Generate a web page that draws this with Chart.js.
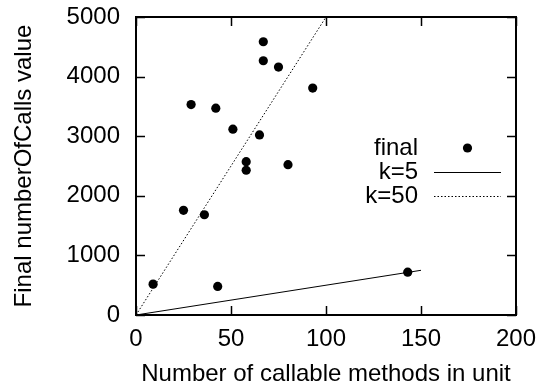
<!DOCTYPE html>
<html>
<head>
<meta charset="utf-8">
<script src="https://cdn.jsdelivr.net/npm/chart.js@4.4.0/dist/chart.umd.min.js"></script>
<style>
  html, body { margin: 0; padding: 0; background: #fff; }
</style>
</head>
<body>
<canvas id="chart" width="548" height="390"></canvas>
<script>
// data
const finalX = [9, 25, 29, 36, 42, 43, 51, 58, 58, 65, 67, 67, 75, 80, 93, 143];
const finalY = [518, 1756, 3531, 1682, 3470, 479, 3118, 2573, 2429, 3022, 4585, 4266, 4160, 2523, 3807, 719];
const k5X = [0, 150];
const k5Y = [0, 750];
const k50X = [0, 100];
const k50Y = [0, 5000];
const xTicks = [0, 50, 100, 150, 200];
const yTicks = [0, 1000, 2000, 3000, 4000, 5000];

const FONT = 'Liberation Sans, Arial, Helvetica, sans-serif';
const FS = 24;

function pts(xs, ys) {
  return xs.map((x, i) => ({ x: x, y: ys[i] }));
}

// gnuplot-like border with inward ticks on all four sides
const framePlugin = {
  id: 'frame',
  afterDatasetsDraw(chart) {
    const { ctx, chartArea: a, scales } = chart;
    ctx.save();
    ctx.strokeStyle = '#000';
    ctx.lineWidth = 1.5;
    const tl = 9;
    ctx.beginPath();
    xTicks.forEach(v => {
      const px = Math.round(scales.x.getPixelForValue(v)) + 0.5;
      ctx.moveTo(px, a.bottom); ctx.lineTo(px, a.bottom - tl);
      ctx.moveTo(px, a.top); ctx.lineTo(px, a.top + tl);
    });
    yTicks.forEach(v => {
      const py = Math.round(scales.y.getPixelForValue(v)) + 0.5;
      ctx.moveTo(a.left, py); ctx.lineTo(a.left + tl, py);
      ctx.moveTo(a.right, py); ctx.lineTo(a.right - tl, py);
    });
    ctx.stroke();
    ctx.lineWidth = 2;
    ctx.strokeRect(a.left, a.top, a.right - a.left, a.bottom - a.top);
    ctx.restore();
  }
};

// key drawn inside the plot, text first then sample (gnuplot style)
const keyPlugin = {
  id: 'key',
  afterDraw(chart) {
    const { ctx, chartArea: a } = chart;
    const textRight = a.right - 98;
    const sx0 = a.right - 82, sx1 = a.right - 15;
    ctx.save();
    ctx.font = FS + 'px ' + FONT;
    ctx.textAlign = 'right';
    ctx.textBaseline = 'middle';
    chart.data.datasets.forEach((ds, i) => {
      const y = a.top + 131 + i * 24;
      ctx.fillStyle = '#000';
      ctx.fillText(ds.label, textRight, y);
      if (ds.showLine) {
        ctx.strokeStyle = ds.borderColor;
        ctx.lineWidth = ds.borderWidth;
        ctx.setLineDash(ds.borderDash || []);
        ctx.beginPath();
        ctx.moveTo(sx0, y + 0.5);
        ctx.lineTo(sx1, y + 0.5);
        ctx.stroke();
        ctx.setLineDash([]);
      } else {
        ctx.fillStyle = ds.backgroundColor;
        ctx.beginPath();
        ctx.arc((sx0 + sx1) / 2, y, ds.pointRadius, 0, Math.PI * 2);
        ctx.fill();
      }
    });
    ctx.restore();
  }
};

const ctx = document.getElementById('chart').getContext('2d');
new Chart(ctx, {
  type: 'scatter',
  data: {
    datasets: [
      {
        label: 'final',
        data: pts(finalX, finalY),
        backgroundColor: '#000',
        borderColor: '#000',
        pointRadius: 4.6,
        pointBorderWidth: 0
      },
      {
        label: 'k=5',
        data: pts(k5X, k5Y),
        showLine: true,
        borderColor: '#000',
        borderWidth: 1,
        pointRadius: 0
      },
      {
        label: 'k=50',
        data: pts(k50X, k50Y),
        showLine: true,
        borderColor: '#000',
        borderWidth: 1,
        borderDash: [1.5, 2],
        pointRadius: 0
      }
    ]
  },
  options: {
    responsive: false,
    animation: false,
    layout: { padding: { top: 17, right: 32, left: 0, bottom: 0 } },
    plugins: {
      legend: { display: false },
      tooltip: { enabled: false }
    },
    scales: {
      x: {
        type: 'linear',
        min: 0,
        max: 200,
        afterFit: s => { s.height = 75; s.paddingLeft = 0; s.paddingRight = 0; },
        afterBuildTicks: s => { s.ticks = xTicks.map(v => ({ value: v })); },
        grid: { display: false, drawTicks: false },
        border: { display: false },
        ticks: { color: '#000', padding: 10, font: { family: FONT, size: FS }, maxRotation: 0,
          callback: v => String(v) },
        title: {
          display: true,
          text: 'Number of callable methods in unit',
          color: '#000',
          font: { family: FONT, size: FS },
          padding: { top: 0, bottom: 1 }
        }
      },
      y: {
        type: 'linear',
        min: 0,
        max: 5000,
        afterFit: s => { s.width = 136; s.paddingTop = 0; s.paddingBottom = 0; },
        afterBuildTicks: s => { s.ticks = yTicks.map(v => ({ value: v })); },
        grid: { display: false, drawTicks: false },
        border: { display: false },
        ticks: { color: '#000', padding: 16, font: { family: FONT, size: FS },
          callback: v => String(v) },
        title: {
          display: true,
          text: 'Final numberOfCalls value',
          color: '#000',
          font: { family: FONT, size: FS },
          padding: { top: 10, bottom: 0 }
        }
      }
    }
  },
  plugins: [framePlugin, keyPlugin]
});
</script>
</body>
</html>
